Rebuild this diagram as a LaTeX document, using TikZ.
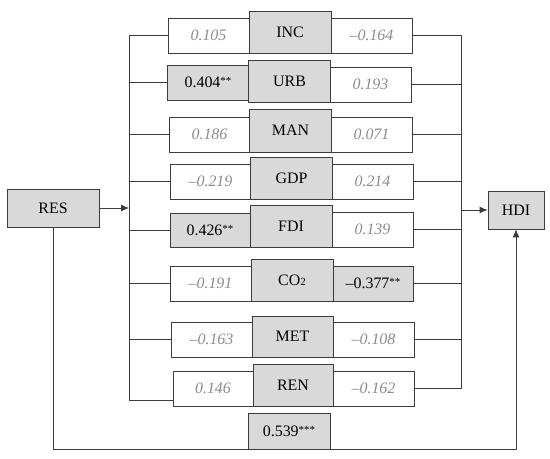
\documentclass[tikz,border=0pt]{standalone}
\usepackage{fontspec}
\setmainfont{Liberation Serif}
\usetikzlibrary{arrows.meta}
\definecolor{boxgray}{HTML}{D9D9D9}
\definecolor{linegray}{HTML}{3C3C3C}
\definecolor{valgray}{HTML}{8C8C8C}
\newcommand{\sig}[1]{\raisebox{3bp}{\fontsize{11}{11}\selectfont #1}}
\tikzset{
  vbox/.style={draw=linegray, line width=0.8bp, minimum width=81bp, minimum height=35bp,
    inner sep=0pt, font=\fontsize{16}{19}\selectfont},
  sigbox/.style={vbox, fill=boxgray},
  nsbox/.style={vbox, text=valgray, font=\fontsize{16}{19}\selectfont\itshape},
  varbox/.style={vbox, fill=boxgray, minimum width=82bp, minimum height=42bp},
  link/.style={draw=linegray, line width=0.8bp},
  arr/.style={link, -{Latex[length=8bp,width=7bp]}}
}
\begin{document}
\begin{tikzpicture}[x=1bp, y=-1bp]
  \useasboundingbox[fill=white] (0,0) rectangle (550,459);
  % end boxes
  \node[vbox, fill=boxgray, minimum width=92bp, minimum height=38bp] (res) at (53,208) {RES};
  \node[vbox, fill=boxgray, minimum width=56bp, minimum height=38bp] (hdi) at (516,210) {HDI};
  % rows: left value, variable, right value
  \node[nsbox] (l1) at (208.5,35.5) {0.105};
  \node[varbox] (v1) at (290,32) {INC};
  \node[nsbox] (r1) at (371.5,35.5) {--0.164};

  \node[sigbox] (l2) at (208,82.5) {0.404\sig{**}};
  \node[varbox] (v2) at (289.5,81) {URB};
  \node[nsbox] (r2) at (370.5,84.5) {0.193};

  \node[nsbox] (l3) at (209.5,134.5) {0.186};
  \node[varbox, minimum height=43bp] (v3) at (290.5,130.5) {MAN};
  \node[nsbox] (r3) at (371.5,134.5) {0.071};

  \node[nsbox] (l4) at (210.5,181.5) {--0.219};
  \node[varbox] (v4) at (291.5,178) {GDP};
  \node[nsbox] (r4) at (372.5,181.5) {0.214};

  \node[sigbox, minimum width=80bp, minimum height=34bp] (l5) at (210,230) {0.426\sig{**}};
  \node[varbox] (v5) at (291,226) {FDI};
  \node[nsbox] (r5) at (372.5,229.5) {0.139};

  \node[nsbox] (l6) at (210.5,283.5) {--0.191};
  \node[varbox] (v6) at (292,280) {CO{\fontsize{11}{11}\selectfont 2}};
  \node[sigbox, minimum width=80bp] (r6) at (373,283.5) {--0.377\sig{**}};

  \node[nsbox] (l7) at (211.5,339.5) {--0.163};
  \node[varbox, minimum width=81bp, minimum height=41bp] (v7) at (292.5,336.5) {MET};
  \node[nsbox] (r7) at (373.5,339.5) {--0.108};

  \node[nsbox, minimum width=80bp] (l8) at (213,388.5) {0.146};
  \node[varbox, minimum width=80bp] (v8) at (293,385) {REN};
  \node[nsbox] (r8) at (373.5,388.5) {--0.162};

  % direct effect
  \node[sigbox, minimum width=82bp, minimum height=36bp] (dir) at (289,431) {0.539\sig{***}};

  % brackets
  \coordinate (lb) at (129,0);
  \coordinate (rb) at (461,0);
  \coordinate (base) at (0,449);
  \coordinate (l8c) at ([yshift=6bp]l8.south west);
  \draw[link] (l1.west -| lb) -- (l8c -| lb);
  \draw[link] (r1.east -| rb) -- (r8.east -| rb);
  \draw[link] (l1.west) -- (l1.west -| lb);
  \draw[link] (l2.west) -- (l2.west -| lb);
  \draw[link] (l3.west) -- (l3.west -| lb);
  \draw[link] (l4.west) -- (l4.west -| lb);
  \draw[link] (l5.west) -- (l5.west -| lb);
  \draw[link] (l6.west) -- (l6.west -| lb);
  \draw[link] (l7.west) -- (l7.west -| lb);
  \draw[link] (l8c) -- (l8c -| lb);
  \draw[link] (r1.east) -- (r1.east -| rb);
  \draw[link] (r2.east) -- (r2.east -| rb);
  \draw[link] (r3.east) -- (r3.east -| rb);
  \draw[link] (r4.east) -- (r4.east -| rb);
  \draw[link] (r5.east) -- (r5.east -| rb);
  \draw[link] (r6.east) -- (r6.east -| rb);
  \draw[link] (r7.east) -- (r7.east -| rb);
  \draw[link] (r8.east) -- (r8.east -| rb);
  % arrows
  \draw[arr] (res.east) -- (res.east -| lb);
  \draw[arr] (hdi.west -| rb) -- (hdi.west);
  \draw[arr] (res.south) -- (res.south |- base) -- (hdi.south |- base) -- (hdi.south);
\end{tikzpicture}
\end{document}
